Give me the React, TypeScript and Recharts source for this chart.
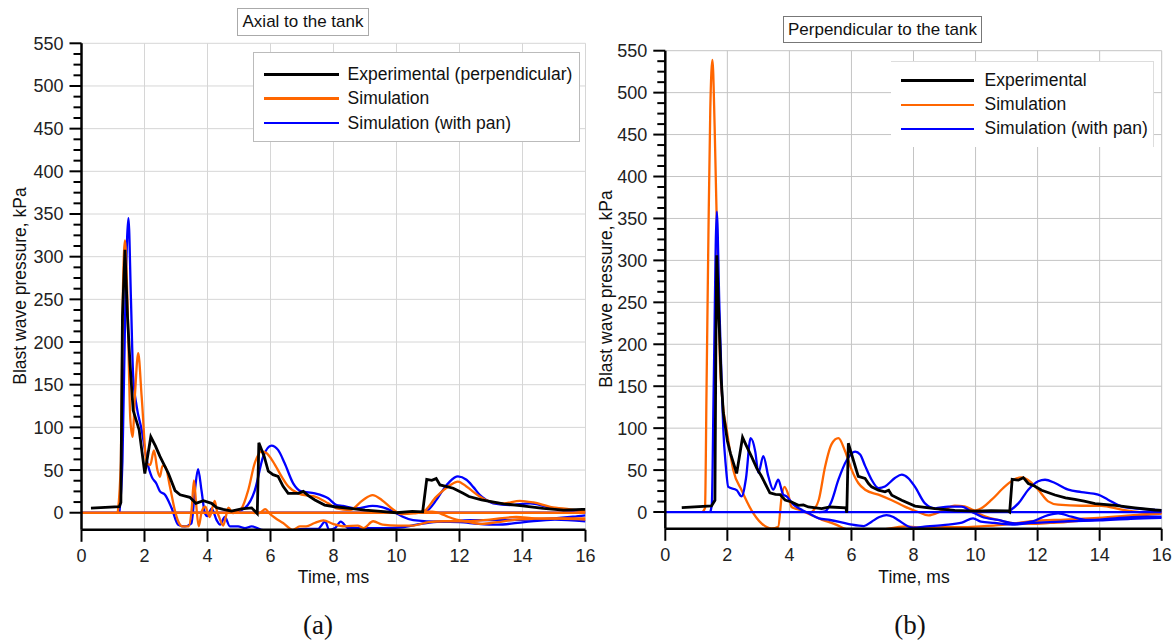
import React from 'react'
import { LineChart, Line, XAxis, YAxis, CartesianGrid } from 'recharts'

type Pt = [number, number]

const FONT = '"Liberation Sans", Arial, sans-serif'
const BLACK = '#000000'
const ORANGE = '#ff6600'
const BLUE = '#0000ff'

const timeTicks = [0, 2, 4, 6, 8, 10, 12, 14, 16]
const pressureGrid = [0, 50, 100, 150, 200, 250, 300, 350, 400, 450, 500, 550]
// minor ticks every 12.5 kPa, labels only on the 50s
const pressureTicks = Array.from({ length: 45 }, (_, i) => i * 12.5)

// ---- (a) axial to the tank ----
const axialExperimental: Pt[] = [
  [0.3, 5.5], [1.2, 7], [1.25, 12], [1.3, 230], [1.38, 308], [1.46, 230], [1.54, 175], [1.64, 120],
  [1.83, 97], [2.01, 46], [2.2, 89], [2.35, 78], [2.49, 66], [2.76, 46], [2.97, 26], [3.13, 21],
  [3.44, 18], [3.55, 14], [3.63, 11], [3.87, 14], [4.13, 11], [4.29, 6], [4.5, 4], [4.76, 2],
  [5.08, 4.5], [5.4, 5.7], [5.58, -1], [5.63, 82], [5.8, 66], [5.93, 48.6], [6.08, 44.6], [6.24, 42.6],
  [6.4, 31], [6.56, 22.7], [6.88, 22.7], [7.04, 25], [7.2, 20], [7.41, 15], [7.72, 9], [8.04, 7],
  [8.52, 5], [9.0, 3], [9.5, 1.5], [10.0, 0], [10.5, 1.5], [10.83, 1], [10.96, 39], [11.12, 38],
  [11.26, 40], [11.38, 32.5], [11.6, 30.7], [11.8, 28.7], [12.1, 23], [12.3, 19], [12.7, 15], [13.0, 13],
  [13.4, 10.5], [14.0, 8], [14.66, 5], [15.3, 3], [15.9, 4], [16.0, 4],
]
const axialSimBase: Pt[] = [[0, 0], [16, 0]]
const axialSimMain: Pt[] = [
  [1.15, 0], [1.25, 60], [1.31, 250], [1.38, 319], [1.45, 260], [1.55, 110], [1.62, 89], [1.7, 140],
  [1.8, 187], [1.91, 136], [2.07, 58], [2.18, 56], [2.3, 73], [2.41, 50], [2.49, 42], [2.57, 55],
  [2.65, 55], [2.81, 30], [2.95, 5], [3.07, -10], [3.2, -16], [3.4, -16], [3.5, 5], [3.57, 38],
  [3.64, 10], [3.72, -16], [3.82, 2], [3.93, 7], [4.07, -5], [4.15, 5], [4.23, 14], [4.3, 2],
  [4.37, -5], [4.5, -15], [4.58, -5], [4.66, 6], [4.81, -0.5], [4.95, 2], [5.08, 5], [5.29, 26],
  [5.5, 58], [5.71, 72], [5.87, 70], [6.08, 60], [6.35, 42.6], [6.56, 31], [6.88, 22.7], [7.2, 20],
  [7.41, 19], [7.83, 11], [8.1, 5], [8.52, 3], [8.93, 14.7], [9.24, 20.7], [9.54, 14.7], [9.85, 5],
  [10.15, -1.6], [10.55, -0.8], [10.84, 1], [11.26, 18.6], [11.69, 32], [11.95, 36.5], [12.22, 30.7],
  [12.64, 19], [12.96, 13], [13.39, 11], [13.92, 14], [14.35, 12], [14.88, 7], [15.52, 4], [16, 1.4],
]
const axialSimTailA: Pt[] = [
  [5.45, 0], [5.65, -0.5], [5.83, 4.2], [6.0, -2], [6.16, -6.4], [6.4, -12], [6.71, -20], [6.93, -16],
  [7.13, -16], [7.4, -12], [7.68, -9], [7.98, -13], [8.35, -16], [8.77, -15], [8.95, -18], [9.26, -10],
  [9.56, -14], [10.05, -15], [10.53, -15], [11.02, -11], [11.5, -10], [12.24, -10], [12.96, -8],
  [13.8, -5], [14.4, -6.6], [15.2, -7], [16, -8],
]
const axialSimTailB: Pt[] = [
  [10.78, 1.2], [11.14, 1.2], [11.4, -1], [11.63, -4.7], [11.9, -8], [12.24, -10.5], [12.72, -13],
  [13.2, -11], [13.8, -8], [14.4, -7], [15.0, -6.6], [16, -6.6],
]
const axialPanBase: Pt[] = [[0, 0], [16, 0]]
const axialPanFirst: Pt[] = [
  [1.2, 0], [1.3, 60], [1.4, 260], [1.49, 345], [1.57, 250], [1.64, 160], [1.75, 125], [1.91, 97],
  [2.07, 62], [2.23, 42], [2.38, 34], [2.49, 25], [2.65, 21], [2.86, 5.5], [3.07, -14], [3.28, -16],
  [3.49, -12.5], [3.6, 26], [3.7, 51], [3.81, 26], [3.92, -0.8], [4.0, -4], [4.13, 5], [4.29, -8.6],
  [4.4, -14], [4.55, -5], [4.71, -16], [4.97, -16], [5.19, -18], [5.4, -16], [5.71, -20], [6.0, -21],
  [6.4, -26], [6.77, -20], [7.13, -19], [7.5, -19], [7.74, -10.5], [7.86, -20], [8.05, -18],
  [8.23, -10.5], [8.47, -18], [8.95, -18], [9.56, -18], [10.17, -17], [10.78, -13], [11.39, -10.5],
  [12.0, -11], [12.6, -13], [13.2, -14], [14.06, -11], [15.03, -8], [16, -10],
]
const axialPanSecond: Pt[] = [
  [4.6, 0], [4.9, 1], [5.2, 6], [5.5, 26], [5.77, 66], [6.03, 78.7], [6.24, 73.6], [6.45, 58],
  [6.72, 34.5], [6.98, 25], [7.41, 22.7], [7.83, 16.9], [8.1, 9], [8.3, 8], [8.73, 5], [9.24, 8],
  [9.54, 6.5], [10.0, -0.5], [10.2, -4.7], [10.53, -8.6], [11.39, -10.5], [12.36, -8.6], [13.2, -8.6],
  [14.4, -7.8], [15.6, -4.7], [16, -3],
]
const axialPanThird: Pt[] = [
  [10.84, 0], [11.0, 3], [11.26, 14.7], [11.5, 28], [11.69, 36.5], [11.95, 42.5], [12.22, 38.6],
  [12.44, 30], [12.64, 21], [12.85, 15], [13.07, 11], [13.6, 9], [14.24, 11], [14.77, 7], [15.3, 3],
  [15.95, 1.4],
]

// ---- (b) perpendicular to the tank ----
const perpExperimental: Pt[] = [
  [0.53, 5.2], [1.49, 7.2], [1.6, 14], [1.63, 200], [1.66, 306], [1.72, 240], [1.8, 160], [1.87, 118],
  [2.0, 85], [2.1, 70], [2.3, 46], [2.49, 89], [2.6, 80], [2.78, 66], [2.95, 52], [3.1, 42.6],
  [3.37, 22.9], [3.55, 21], [3.7, 20.7], [3.86, 14.3], [4.07, 12], [4.29, 8], [4.45, 8.5], [4.61, 6],
  [5.04, 4], [5.31, 6], [5.82, 5], [5.85, -0.8], [5.9, 82], [6.06, 62], [6.22, 42.6], [6.44, 40],
  [6.55, 34], [6.65, 30], [6.87, 26], [7.08, 24], [7.2, 26], [7.3, 20], [7.62, 14], [8.05, 7],
  [8.69, 4], [9.33, 2], [9.98, 1], [10.5, 1.5], [11.05, 1.2], [11.1, 0], [11.18, 39], [11.38, 38],
  [11.54, 41], [11.7, 34], [11.9, 31], [12.13, 26], [12.56, 20.3], [12.9, 17], [13.2, 15], [13.5, 13],
  [13.85, 10], [14.5, 8], [15.14, 5], [15.78, 2.4], [16, 2],
]
const perpSimFirst: Pt[] = [
  [1.2, 0], [1.28, 5], [1.33, 149], [1.39, 330], [1.45, 480], [1.52, 539], [1.59, 460], [1.68, 308],
  [1.76, 180], [1.85, 130], [1.98, 98], [2.19, 50], [2.46, 26], [2.78, 2], [3.1, -13.5], [3.43, -19.5],
  [3.64, -17.5], [3.75, 18], [3.84, 30], [3.97, 20], [4.07, 6], [4.29, 3], [4.61, -2], [5.04, -9],
  [5.5, -15], [5.8, -20], [6.4, -24.3], [7.0, -21], [7.74, -17], [8.35, -19], [8.95, -18], [9.56, -18],
  [10.17, -17], [10.65, -16], [11.27, -13.5], [11.82, -11], [12.9, -9], [13.95, -7], [15.0, -4], [16, -1],
]
const perpSimSecond: Pt[] = [
  [4.72, 0], [4.95, 15], [5.15, 54], [5.36, 81], [5.58, 88], [5.79, 73], [6.01, 50], [6.22, 34.6],
  [6.44, 26.6], [6.87, 20.7], [7.3, 14], [7.72, 6.4], [8.15, 0], [8.48, -4], [8.9, 1], [9.33, 7.6],
  [9.65, 6.8], [9.98, 2], [10.25, 6], [10.52, 14.7], [10.95, 30.5], [11.27, 39.3], [11.48, 41.3],
  [11.75, 36.6], [12.02, 26.6], [12.34, 12.7], [12.66, 8.7], [13.41, 7.5], [14.06, 7.5], [14.7, 2.8],
  [15.35, -0.4], [16, -1.2],
]
const perpSimTail: Pt[] = [
  [9.98, 0], [10.3, -5], [10.73, -9.5], [11.27, -13.5], [11.82, -14], [12.4, -13], [12.9, -12],
  [13.5, -10], [14.2, -8], [15.0, -5], [16, -2],
]
const perpPanBase: Pt[] = [[0, 0], [16, 0]]
const perpPanFirst: Pt[] = [
  [1.45, 0], [1.5, 10], [1.56, 149], [1.66, 358], [1.74, 250], [1.82, 149], [1.87, 98], [1.95, 55],
  [2.03, 30], [2.3, 26], [2.46, 18.6], [2.6, 40], [2.75, 88], [2.9, 72], [3.0, 46.6], [3.16, 66.6],
  [3.32, 42.6], [3.48, 26.6], [3.64, 38.5], [3.8, 20.7], [3.91, 18.7], [4.13, 8.7], [4.29, 4.8],
  [4.61, -1.2], [4.95, -7.5], [5.31, -9.5], [5.92, -14.3], [6.4, -16.7], [6.65, -11.5], [6.9, -6],
  [7.13, -3.6], [7.35, -6], [7.5, -9.5], [7.98, -18.7], [8.35, -17.5], [8.95, -15.5], [9.56, -12.7],
  [9.92, -7.5], [10.17, -11.5], [10.6, -13], [11.27, -15], [11.8, -13], [12.4, -12], [13.0, -11],
  [14.0, -10], [15.0, -8], [16, -7],
]
const perpPanSecond: Pt[] = [
  [4.95, 0], [5.15, 0.8], [5.35, 12], [5.58, 38.5], [5.85, 62], [6.12, 72], [6.28, 68.5], [6.44, 55],
  [6.65, 38.5], [6.87, 28.6], [7.08, 30.5], [7.4, 40.5], [7.62, 44.5], [7.83, 40.5], [8.05, 30],
  [8.37, 10.3], [8.69, 4.4], [9.12, 6.4], [9.55, 6.4], [9.87, 0.4], [10.2, -5.6], [10.73, -9.5],
  [11.27, -13.5], [11.8, -11.5], [12.34, -3.6], [12.66, -1.6], [13.09, -5.6], [13.6, -9.5],
  [14.5, -7.5], [15.57, -5.6], [16, -5.6],
]
const perpPanThird: Pt[] = [
  [11.05, 0], [11.38, 10.3], [11.7, 26.6], [12.02, 36.6], [12.24, 38.5], [12.56, 34.6], [12.99, 26.6],
  [13.41, 23.8], [13.95, 20.7], [14.27, 14.7], [14.7, 6.8], [15.35, 3.6], [16, 2],
]

interface Track {
  points: Pt[]
  color: string
  width: number
  smooth: boolean
}

const sim = (points: Pt[]): Track => ({ points, color: ORANGE, width: 2.3, smooth: true })
const pan = (points: Pt[]): Track => ({ points, color: BLUE, width: 2.3, smooth: true })
const exp = (points: Pt[]): Track => ({ points, color: BLACK, width: 2.8, smooth: false })

// drawing order: later entries sit on top
const axialTracks: Track[] = [
  pan(axialPanBase), pan(axialPanFirst), pan(axialPanSecond), pan(axialPanThird),
  sim(axialSimBase), sim(axialSimMain), sim(axialSimTailA), sim(axialSimTailB),
  exp(axialExperimental),
]
const perpTracks: Track[] = [
  sim(perpSimFirst), sim(perpSimSecond), sim(perpSimTail),
  pan(perpPanBase), pan(perpPanFirst), pan(perpPanSecond), pan(perpPanThird),
  exp(perpExperimental),
]

const toRows = (pts: Pt[]) => pts.map(([t, v]) => ({ t, v }))

function PressureTick(props: any) {
  const { x, y, payload } = props
  const major = payload.value % 50 === 0
  return (
    <g>
      <line x1={x - (major ? 12 : 8)} x2={x} y1={y} y2={y} stroke="#000" strokeWidth={2} />
      {major && (
        <text x={x - 18} y={y} dy="0.36em" textAnchor="end" fontSize={18} fill="#222" fontFamily={FONT}>
          {payload.value}
        </text>
      )}
    </g>
  )
}

interface PanelProps {
  width: number
  height: number
  margin: { top: number; right: number; bottom: number; left: number }
  tracks: Track[]
  gridColor: string
}

function Panel({ width, height, margin, tracks, gridColor }: PanelProps) {
  return (
    <LineChart width={width} height={height} margin={margin}>
      <CartesianGrid
        stroke={gridColor}
        strokeWidth={1}
        horizontalValues={pressureGrid}
        verticalValues={timeTicks.slice(1)}
      />
      <XAxis
        type="number"
        dataKey="t"
        domain={[0, 16]}
        ticks={timeTicks}
        interval={0}
        allowDataOverflow
        height={40}
        tickSize={12}
        tickMargin={7}
        axisLine={{ stroke: '#000', strokeWidth: 2.5 }}
        tickLine={{ stroke: '#000', strokeWidth: 2 }}
        tick={{ fontSize: 18, fill: '#222', fontFamily: FONT }}
      />
      <YAxis
        type="number"
        domain={[-20, 550]}
        ticks={pressureTicks}
        interval={0}
        allowDataOverflow
        width={60}
        tickSize={0}
        tickMargin={0}
        tickLine={false}
        axisLine={{ stroke: '#000', strokeWidth: 2.5 }}
        tick={(p: any) => <PressureTick {...p} />}
      />
      {tracks.map((tr, i) => (
        <Line
          key={i}
          data={toRows(tr.points)}
          dataKey="v"
          type={tr.smooth ? 'monotone' : 'linear'}
          stroke={tr.color}
          strokeWidth={tr.width}
          dot={false}
          activeDot={false}
          isAnimationActive={false}
        />
      ))}
    </LineChart>
  )
}

const legendEntries = [
  { color: BLACK, width: 3 },
  { color: ORANGE, width: 2.5 },
  { color: BLUE, width: 2.5 },
]

function LegendBox(props: {
  left: number
  top: number
  width: number
  height: number
  padTop: number
  rowH: number
  lineLen: number
  gap: number
  labels: string[]
  border: React.CSSProperties
}) {
  const { left, top, width, height, padTop, rowH, lineLen, gap, labels, border } = props
  return (
    <div
      style={{
        position: 'absolute', left, top, width, height, background: '#fff',
        boxSizing: 'border-box', paddingTop: padTop, ...border,
      }}
    >
      {labels.map((label, i) => (
        <div key={label} style={{ display: 'flex', alignItems: 'center', height: rowH }}>
          <div
            style={{
              marginLeft: 10, width: lineLen, height: legendEntries[i].width,
              background: legendEntries[i].color,
            }}
          />
          <span style={{ marginLeft: gap, fontSize: 17.5, fontFamily: FONT, color: '#111', whiteSpace: 'nowrap' }}>
            {label}
          </span>
        </div>
      ))}
    </div>
  )
}

const textStyle: React.CSSProperties = {
  position: 'absolute', fontFamily: FONT, fontSize: 17.5, color: '#111',
  textAlign: 'center', lineHeight: '20px', whiteSpace: 'nowrap',
}

const captionStyle: React.CSSProperties = {
  position: 'absolute', width: 100, textAlign: 'center', color: '#111',
  fontFamily: '"Liberation Serif", "Times New Roman", serif', fontSize: 27, lineHeight: '30px',
}

export default function App() {
  return (
    <div style={{ position: 'absolute', left: 0, top: 0, width: 1176, height: 642, background: '#fff', overflow: 'hidden' }}>
      <div style={{ position: 'absolute', left: 0, top: 0 }}>
        <Panel
          width={600}
          height={600}
          margin={{ top: 43.3, right: 14.5, bottom: 30.2, left: 21.5 }}
          tracks={axialTracks}
          gridColor="#d6d6d6"
        />
      </div>
      <div style={{ position: 'absolute', left: 585, top: 0 }}>
        <Panel
          width={591}
          height={600}
          margin={{ top: 50.7, right: 14.3, bottom: 31.2, left: 20.3 }}
          tracks={perpTracks}
          gridColor="#c4c4c4"
        />
      </div>

      {/* panel headings */}
      <div
        style={{
          ...textStyle, left: 237, top: 8, width: 132, height: 28, lineHeight: '26px', fontSize: 17,
          border: '1px solid #aaa', boxSizing: 'border-box', background: '#fff',
        }}
      >
        Axial to the tank
      </div>
      <div
        style={{
          ...textStyle, left: 783, top: 16, width: 199, height: 27, lineHeight: '25px', fontSize: 17,
          border: '1px solid #777', boxSizing: 'border-box', background: '#fff',
        }}
      >
        Perpendicular to the tank
      </div>

      <LegendBox
        left={252.6} top={52} width={327} height={90} padTop={8.75} rowH={24.5} lineLen={75} gap={9}
        labels={['Experimental (perpendicular)', 'Simulation', 'Simulation (with pan)']}
        border={{ border: '1px solid #bbb' }}
      />
      <LegendBox
        left={891} top={60.7} width={263} height={86} padTop={7.3} rowH={24} lineLen={73} gap={10.5}
        labels={['Experimental', 'Simulation', 'Simulation (with pan)']}
        border={{ borderTop: '1px solid #ddd', borderRight: '1px solid #ddd' }}
      />

      {/* axis titles */}
      <div style={{ ...textStyle, left: 233.5, top: 567, width: 200 }}>Time, ms</div>
      <div style={{ ...textStyle, left: 814, top: 567, width: 200 }}>Time, ms</div>
      <div style={{ ...textStyle, left: -130, top: 276, width: 300, transform: 'rotate(-90deg)' }}>
        Blast wave pressure, kPa
      </div>
      <div style={{ ...textStyle, left: 456, top: 279, width: 300, transform: 'rotate(-90deg)' }}>
        Blast wave pressure, kPa
      </div>

      {/* sub-figure captions */}
      <div style={{ ...captionStyle, left: 268, top: 610 }}>(a)</div>
      <div style={{ ...captionStyle, left: 860, top: 610 }}>(b)</div>
    </div>
  )
}
